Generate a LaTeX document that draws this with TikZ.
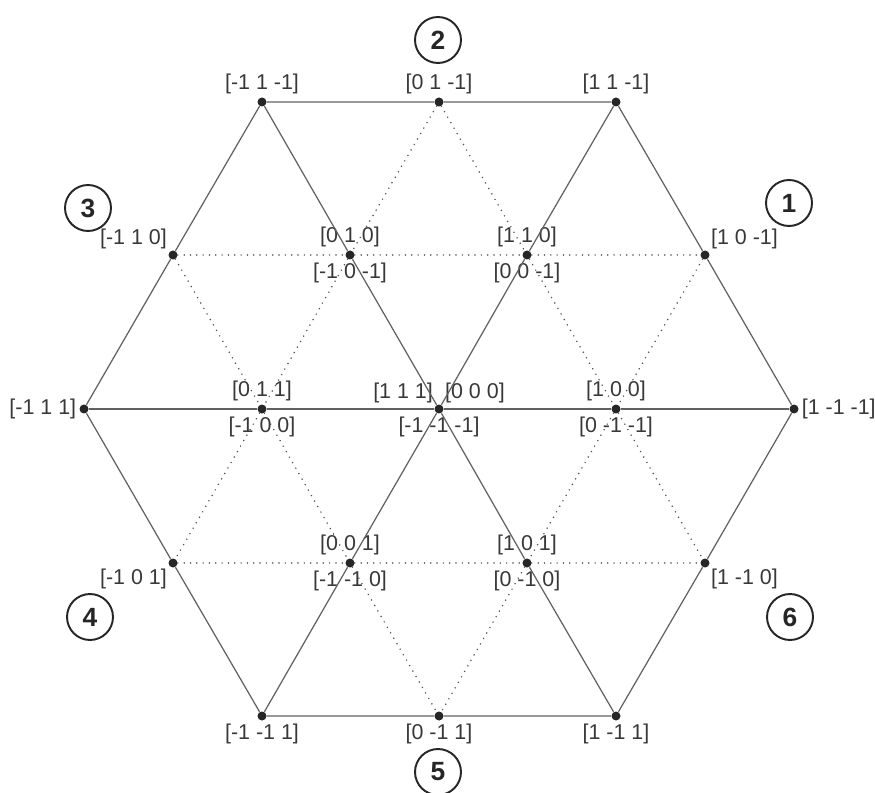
\documentclass[tikz,border=0pt]{standalone}
\usepackage{fontspec}
\setmainfont{Liberation Sans}
\usetikzlibrary{positioning}

\newcommand{\lblfont}{\fontsize{12.2}{14}\selectfont}
\newcommand{\numfont}{\fontsize{15}{17}\selectfont\bfseries}

\begin{document}
\begin{tikzpicture}[
    x=0.02cm, y=-0.02cm,
    dot/.style={circle,fill=black!85,inner sep=0pt,minimum size=0.18cm},
    every label/.style={text=black!78,font=\lblfont,inner sep=1pt},
    label distance=0.5pt,
    solidline/.style={draw=black!62,line width=0.7pt},
    dotline/.style={draw=black!68,line width=0.95pt,line cap=round,dash pattern=on 0pt off 3.6pt},
    num/.style={circle,draw=black!85,line width=1.1pt,minimum size=0.92cm,inner sep=0pt,font=\numfont,text=black!85}
]
\useasboundingbox (0,0) rectangle (875,793);

% top row
\node[dot, label=above:{[-1 1 -1]}] (TL) at (262,102) {};
\node[dot, label=above:{[0 1 -1]}]  (TM) at (439,102) {};
\node[dot, label=above:{[1 1 -1]}]  (TR) at (616,102) {};

% upper row
\node[dot, label=above left:{[-1 1 0]}] (UL) at (173,255) {};
\node[dot, label=above:{[0 1 0]}, label=below:{[-1 0 -1]}] (U1) at (350,255) {};
\node[dot, label=above:{[1 1 0]}, label=below:{[0 0 -1]}]  (U2) at (527,255) {};
\node[dot, label=above right:{[1 0 -1]}] (UR) at (705,255) {};

% middle row
\node[dot, label=left:{[-1 1 1]}] (L) at (84,409) {};
\node[dot, label=above:{[0 1 1]}, label=below:{[-1 0 0]}] (M1) at (262,409) {};
\node[dot, label=above left:{[1 1 1]}, label=above right:{[0 0 0]}, label=below:{[-1 -1 -1]}] (O) at (439,409) {};
\node[dot, label=above:{[1 0 0]}, label=below:{[0 -1 -1]}] (M2) at (616,409) {};
\node[dot, label=right:{[1 -1 -1]}] (R) at (794,409) {};

% lower row
\node[dot, label=below left:{[-1 0 1]}] (DL) at (173,563) {};
\node[dot, label=above:{[0 0 1]}, label=below:{[-1 -1 0]}] (D1) at (350,563) {};
\node[dot, label=above:{[1 0 1]}, label=below:{[0 -1 0]}]  (D2) at (527,563) {};
\node[dot, label=below right:{[1 -1 0]}] (DR) at (705,563) {};

% bottom row
\node[dot, label=below:{[-1 -1 1]}] (BL) at (262,716) {};
\node[dot, label=below:{[0 -1 1]}]  (BM) at (439,716) {};
\node[dot, label=below:{[1 -1 1]}]  (BR) at (616,716) {};

% sectors
\node[num] (s1) at (789,203) {1};
\node[num] (s2) at (438,40) {2};
\node[num] (s3) at (88,208) {3};
\node[num] (s4) at (90,617) {4};
\node[num] (s5) at (438,772) {5};
\node[num] (s6) at (790,617) {6};

% hexagon and main diagonals
\draw[solidline] (TL) -- (TM) -- (TR) -- (UR) -- (R) -- (DR) -- (BR) -- (BM) -- (BL) -- (DL) -- (L) -- (UL) -- (TL);
\draw[solidline] (L) -- (M1) -- (O) -- (M2) -- (R);
\draw[solidline] (TL) -- (U1) -- (O) -- (D2) -- (BR);
\draw[solidline] (TR) -- (U2) -- (O) -- (D1) -- (BL);

% inner net
\draw[dotline] (UL) -- (U1) -- (U2) -- (UR);
\draw[dotline] (DL) -- (D1) -- (D2) -- (DR);
\draw[dotline] (TM) -- (U1) -- (M1) -- (DL);
\draw[dotline] (TM) -- (U2) -- (M2) -- (DR);
\draw[dotline] (UL) -- (M1) -- (D1) -- (BM);
\draw[dotline] (UR) -- (M2) -- (D2) -- (BM);
\end{tikzpicture}
\end{document}
